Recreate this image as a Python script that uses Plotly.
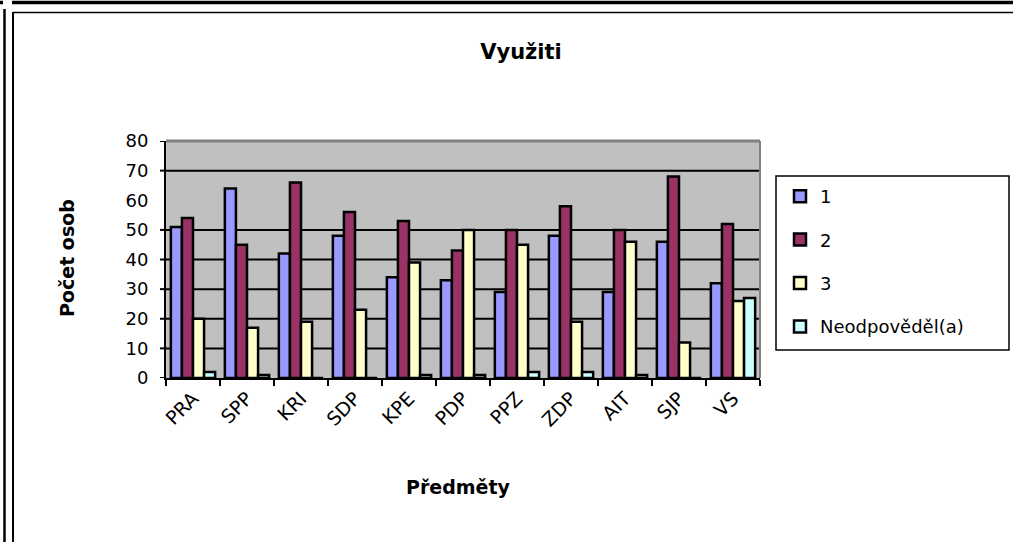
import plotly.graph_objects as go

# Survey results: how many people rated each subject's usefulness
predmety = ["PRA", "SPP", "KRI", "SDP", "KPE", "PDP", "PPZ", "ZDP", "AIT", "SJP", "VS"]
hodnoceni_1 = [51, 64, 42, 48, 34, 33, 29, 48, 29, 46, 32]
hodnoceni_2 = [54, 45, 66, 56, 53, 43, 50, 58, 50, 68, 52]
hodnoceni_3 = [20, 17, 19, 23, 39, 50, 45, 19, 46, 12, 26]
neodpovedel = [2, 1, 0, 0, 1, 1, 2, 2, 1, 0, 27]

serie_nazvy = ["1", "2", "3", "Neodpověděl(a)"]
serie_barvy = ["#9999FF", "#993366", "#FFFFCC", "#CCFFFF"]
serie_hodnoty = [hodnoceni_1, hodnoceni_2, hodnoceni_3, neodpovedel]

y_ticks = [0, 10, 20, 30, 40, 50, 60, 70, 80]
grid_lines = [10, 20, 30, 40, 50, 70]
tick_marks = [0, 10, 20, 30, 40, 50, 70, 80]

W, H = 1013, 542
ML, MR, MT, MB = 166, 253, 141, 164
PW, PH = W - ML - MR, H - MT - MB


def px(x):
    return (x - ML) / PW


def py(y):
    return (H - MB - y) / PH


FONT = "DejaVu Sans, Verdana, sans-serif"

fig = go.Figure()
for i, (name, color, vals) in enumerate(zip(serie_nazvy, serie_barvy, serie_hodnoty)):
    fig.add_trace(go.Bar(
        x=predmety, y=vals, name=name, legendgroup=str(i),
        marker=dict(color=color, line=dict(color="black", width=2.5)),
    ))

shapes = []
# horizontal grid
for g in grid_lines:
    shapes.append(dict(type="line", xref="paper", yref="y", x0=0, x1=1, y0=g, y1=g,
                       line=dict(color="black", width=2), layer="below"))
# y-axis tick marks
for t in tick_marks:
    shapes.append(dict(type="line", xref="paper", yref="y", x0=px(160), x1=0, y0=t, y1=t,
                       line=dict(color="black", width=2)))
# plot-area border (top and right)
shapes.append(dict(type="line", xref="paper", yref="paper", x0=0, x1=1, y0=1, y1=1,
                   line=dict(color="#808080", width=3)))
shapes.append(dict(type="line", xref="paper", yref="paper", x0=1, x1=1, y0=0, y1=1,
                   line=dict(color="#808080", width=2)))
# legend frame
shapes.append(dict(type="rect", xref="paper", yref="paper",
                   x0=px(776), x1=px(1009), y0=py(350), y1=py(176),
                   line=dict(color="black", width=1.5), fillcolor="white", layer="below"))
# outer frame
shapes.append(dict(type="line", xref="paper", yref="paper", x0=px(12), x1=px(1013), y0=py(2.5), y1=py(2.5),
                   line=dict(color="black", width=3.5)))
shapes.append(dict(type="line", xref="paper", yref="paper", x0=px(0), x1=px(3), y0=py(2.5), y1=py(2.5),
                   line=dict(color="black", width=3.5)))
shapes.append(dict(type="line", xref="paper", yref="paper", x0=px(4.5), x1=px(4.5), y0=py(9), y1=py(542),
                   line=dict(color="black", width=2.5)))
shapes.append(dict(type="line", xref="paper", yref="paper", x0=px(13), x1=px(13), y0=py(12), y1=py(542),
                   line=dict(color="black", width=2)))
shapes.append(dict(type="line", xref="paper", yref="paper", x0=px(13), x1=px(1013), y0=py(12.5), y1=py(12.5),
                   line=dict(color="black", width=1.5)))

annotations = [
    dict(text="<b>Počet osob</b>", xref="paper", yref="paper", x=px(67), y=py(258),
         showarrow=False, textangle=-90, font=dict(size=19, color="black", family=FONT),
         xanchor="center", yanchor="middle"),
    dict(text="<b>Předměty</b>", xref="paper", yref="paper", x=px(458), y=py(487),
         showarrow=False, font=dict(size=19, color="black", family=FONT),
         xanchor="center", yanchor="middle"),
]

fig.update_layout(
    width=W, height=H,
    margin=dict(l=ML, r=MR, t=MT, b=MB),
    paper_bgcolor="white", plot_bgcolor="#C0C0C0",
    font=dict(family=FONT, color="black", size=17),
    title=dict(text="<b>Využiti</b>", x=521 / W, xanchor="center", xref="container",
               y=1 - 52 / H, yanchor="middle", yref="container",
               font=dict(size=21, family=FONT, color="black")),
    barmode="group", bargap=0.18, bargroupgap=0,
    showlegend=True,
    legend=dict(x=px(780), y=py(178), xanchor="left", yanchor="top",
                bgcolor="rgba(0,0,0,0)", borderwidth=0,
                traceorder="grouped", tracegroupgap=17,
                font=dict(size=18, family=FONT, color="black")),
    shapes=shapes, annotations=annotations,
)
fig.update_xaxes(type="category", tickson="boundaries", ticks="outside", ticklen=6,
                 tickwidth=2, tickcolor="black", showline=True, linecolor="black",
                 linewidth=2, tickangle=-45, tickfont=dict(size=19), showgrid=False)
fig.update_yaxes(range=[0, 80], tickvals=y_ticks, ticks="", showgrid=False,
                 showline=True, linecolor="black", linewidth=2, zeroline=False,
                 ticklabelstandoff=12, tickfont=dict(size=18))

fig.write_html("out.html")
